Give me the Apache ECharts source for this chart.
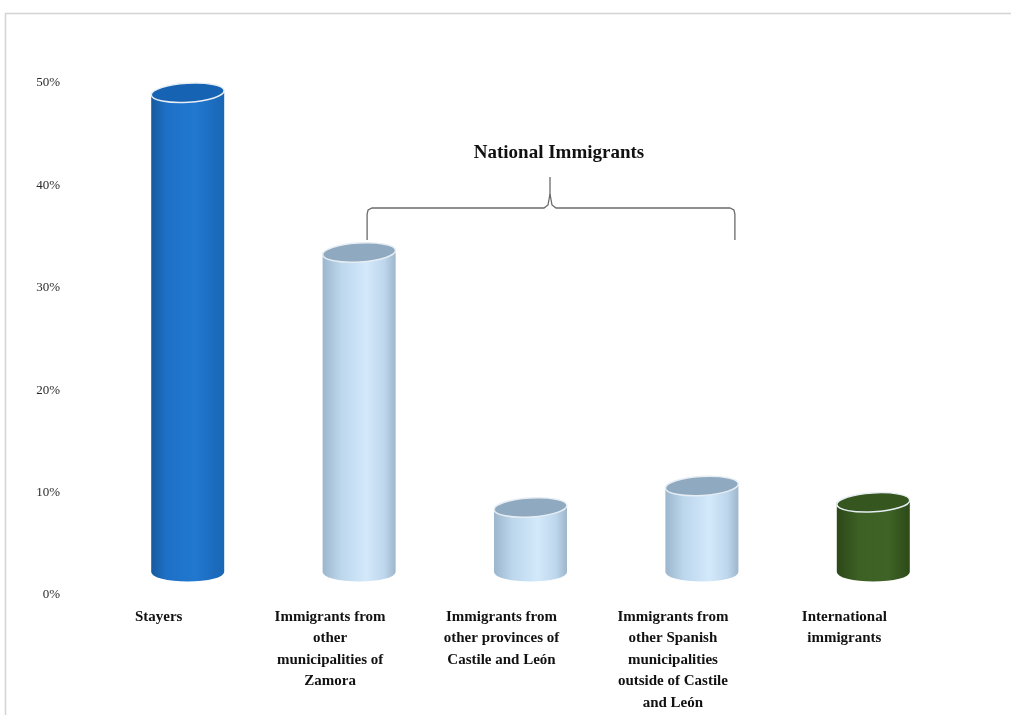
<!DOCTYPE html>
<html>
<head>
<meta charset="utf-8">
<script src="https://cdn.jsdelivr.net/npm/echarts@6/dist/echarts.min.js"></script>
<style>
html,body{margin:0;padding:0;background:#fff;}
#c{width:1011px;height:715px;}
</style>
</head>
<body>
<div id="c"></div>
<script>
// ---- data ----
const categories = [
  'Stayers',
  'Immigrants from\nother\nmunicipalities of\nZamora',
  'Immigrants from\nother provinces of\nCastile and León',
  'Immigrants from\nother Spanish\nmunicipalities\noutside of Castile\nand León',
  'International\nimmigrants'
];
const shares = [46.8, 31.2, 6.3, 8.4, 6.8];
const yTicks = [0, 10, 20, 30, 40, 50];
const groupLabel = 'National Immigrants';

// ---- styles ----
const bodyStops = [
  [[0,'#17599e'],[0.2,'#1d70c6'],[0.6,'#2178cf'],[1,'#1966b5']],
  [[0,'#9cb6cd'],[0.25,'#bcd6ec'],[0.6,'#d3e9fb'],[0.85,'#bed6ec'],[1,'#9db6cc']],
  [[0,'#9cb6cd'],[0.25,'#bcd6ec'],[0.6,'#d3e9fb'],[0.85,'#bed6ec'],[1,'#9db6cc']],
  [[0,'#9cb6cd'],[0.25,'#bcd6ec'],[0.6,'#d3e9fb'],[0.85,'#bed6ec'],[1,'#9db6cc']],
  [[0,'#2c4818'],[0.3,'#3d6024'],[0.7,'#3f6326'],[1,'#2d4a19']]
];
const topColors = ['#1663b4', '#8fa9c0', '#8fa9c0', '#8fa9c0', '#35561f'];
const depthX = 29, depthY = 23, halfW = 36.5, ry = 9.5;

function grad(stops){
  return new echarts.graphic.LinearGradient(0,0,1,0, stops.map(s=>({offset:s[0],color:s[1]})));
}

const chart = echarts.init(document.getElementById('c'), null, {renderer:'canvas'});
const option = {
  animation: false,
  backgroundColor: '#ffffff',
  grid: {left: 73, right: 81, top: 83, bottom: 120},
  xAxis: {
    type: 'category',
    data: categories,
    axisLine: {show: false},
    axisTick: {show: false},
    axisLabel: {
      interval: 0,
      margin: 11,
      fontFamily: 'Liberation Serif',
      fontWeight: 'bold',
      fontSize: 15,
      lineHeight: 21.5,
      color: '#111111',
      align: 'center'
    }
  },
  yAxis: {
    type: 'value',
    min: 0, max: 50, interval: 10,
    splitLine: {show: false},
    axisLine: {show: false},
    axisTick: {show: false},
    axisLabel: {
      margin: 13,
      fontFamily: 'Liberation Serif',
      fontSize: 13,
      color: '#2a2a2a',
      formatter: v => yTicks.indexOf(v) >= 0 ? v + '%' : ''
    }
  },
  series: [{
    type: 'custom',
    data: shares.map((v,i)=>[i,v]),
    renderItem: function(params, api){
      const i = api.value(0), v = api.value(1);
      const base = api.coord([i, 0]);
      const top = api.coord([i, v]);
      const cx = base[0] + depthX;
      const yb = base[1] - depthY;
      const yt = top[1] - depthY;
      const x0 = cx - halfW, x1 = cx + halfW;
      const body = 'M' + x0 + ' ' + yt + ' L' + x0 + ' ' + yb +
        ' A' + halfW + ' ' + ry + ' 0 0 0 ' + x1 + ' ' + yb +
        ' L' + x1 + ' ' + yt + ' Z';
      return {
        type: 'group',
        children: [
          {type: 'path', shape: {pathData: body}, style: {fill: grad(bodyStops[i]), stroke: null}},
          {type: 'ellipse', shape: {cx: cx, cy: yt, rx: halfW, ry: ry},
           rotation: 0.06, originX: cx, originY: yt,
           style: {fill: topColors[i], stroke: '#e6edf3', lineWidth: 1.5}}
        ]
      };
    }
  }]
};
chart.setOption(option);

// brace annotation over the national-immigrant categories
const pL = chart.convertToPixel({gridIndex: 0}, [1, 0]);
const pR = chart.convertToPixel({gridIndex: 0}, [3, 0]);
const lx = pL[0] + 37, rx2 = pR[0] + 62, mx = (lx + rx2) / 2 - 1;
const yh = 208, yEnd = 240, yPeak = 194, yTop = 177;
const braceStyle = {stroke: '#6b6b6b', lineWidth: 1.3, fill: null};
chart.setOption({graphic: [
  {type: 'rect', shape: {x: 5.5, y: 13.5, width: 1200, height: 900},
   style: {fill: null, stroke: '#d4d4d4', lineWidth: 1.5}, silent: true},
  {type: 'polyline', shape: {points: [[lx, yEnd], [lx, yh + 6], [lx + 1, yh + 2], [lx + 5, yh], [mx - 6, yh], [mx - 2, yh - 3], [mx, yPeak]]}, style: braceStyle},
  {type: 'polyline', shape: {points: [[rx2, yEnd], [rx2, yh + 6], [rx2 - 1, yh + 2], [rx2 - 5, yh], [mx + 6, yh], [mx + 2, yh - 3], [mx, yPeak]]}, style: braceStyle},
  {type: 'line', shape: {x1: mx, y1: yTop, x2: mx, y2: yPeak}, style: braceStyle},
  {type: 'text', x: mx + 9, y: 153,
   style: {text: groupLabel, fontFamily: 'Liberation Serif', fontWeight: 'bold', fontSize: 19,
           fill: '#111111', align: 'center', verticalAlign: 'middle'}}
]});
</script>
</body>
</html>
